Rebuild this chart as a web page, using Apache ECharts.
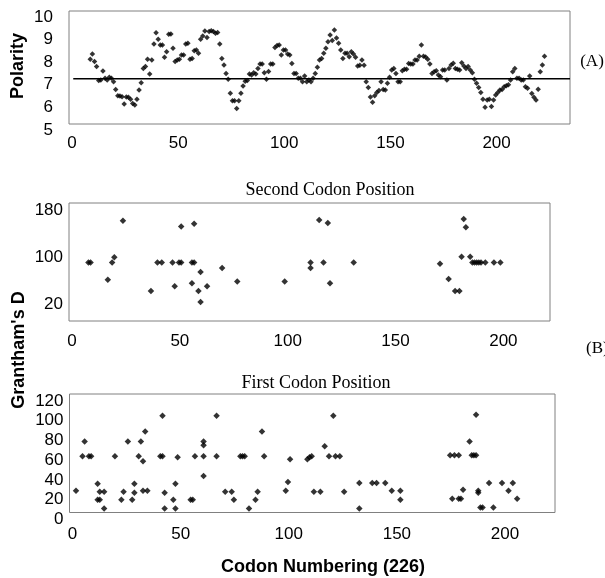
<!DOCTYPE html>
<html><head><meta charset="utf-8">
<script src="https://cdn.jsdelivr.net/npm/echarts@6/dist/echarts.min.js"></script>
<style>html,body{margin:0;padding:0;background:#fff}#c{width:605px;height:578px}</style>
</head><body><div id="c"></div>
<script>
// ---- data ----
const polarityStart = 10;   // codon of first polarity value
const polarity = [
 7.86, 8.10, 7.76, 7.54, 6.92, 6.95, 7.35, 7.02, 6.95, 7.07,   // 10-19
 7.02, 6.87, 6.53, 6.25, 6.24, 6.21, 5.88, 6.20, 6.18, 6.09,   // 20-29
 5.91, 5.84, 6.09, 6.50, 6.83, 7.46, 7.54, 7.86, 7.21, 7.83,   // 30-39
 8.54, 9.04, 8.75, 8.50, 8.50, 7.95, 8.20, 8.97, 8.98, 8.35,   // 40-49
 7.76, 7.83, 7.86, 8.05, 8.05, 8.54, 8.57, 7.86, 7.90, 8.24,   // 50-59
 8.27, 8.13, 8.75, 8.89, 9.12, 8.83, 9.09, 9.13, 9.09, 9.01,   // 60-69
 9.05, 8.54, 7.90, 7.61, 7.24, 6.98, 6.36, 6.03, 6.03, 5.69,   // 70-79
 6.03, 6.36, 6.68, 6.89, 6.92, 7.21, 7.17, 7.27, 7.21, 7.46,   // 80-89
 7.65, 7.65, 7.27, 6.98, 7.32, 7.65, 7.65, 8.38, 8.47, 8.50,   // 90-99
 8.05, 8.27, 8.27, 8.10, 8.05, 7.68, 7.24, 7.24, 7.02, 7.02,   // 100-109
 6.87, 7.12, 6.87, 6.95, 6.87, 7.02, 7.24, 7.51, 7.83, 7.90,   // 110-119
 8.13, 8.35, 8.64, 8.94, 8.69, 9.16, 8.80, 8.57, 8.27, 7.90,   // 120-129
 8.13, 8.13, 7.98, 8.20, 8.10, 7.95, 7.57, 7.60, 7.83, 7.60,   // 130-139
 6.87, 6.62, 6.20, 5.96, 6.25, 6.39, 6.48, 6.87, 6.53, 6.50,   // 140-149
 6.80, 7.07, 7.39, 7.46, 7.24, 6.87, 6.87, 7.36, 7.42, 7.42,   // 150-159
 7.68, 7.65, 7.65, 7.83, 7.83, 8.00, 8.50, 8.00, 7.97, 7.86,   // 160-169
 7.65, 7.24, 7.31, 7.36, 7.17, 7.09, 7.39, 7.39, 6.95, 7.46,   // 170-179
 7.61, 7.69, 7.46, 7.42, 7.39, 7.71, 7.57, 7.46, 7.54, 7.39,   // 180-189
 7.27, 6.98, 6.80, 6.62, 6.39, 6.09, 5.74, 6.06, 6.09, 5.77,   // 190-199
 6.06, 6.28, 6.39, 6.50, 6.53, 6.65, 6.69, 6.74, 6.95, 7.31,   // 200-209
 7.46, 7.02, 7.02, 6.95, 6.95, 6.65, 6.58, 7.12, 6.35, 6.18,   // 210-219
 6.06, 6.54, 7.31, 7.61, 8.00                                  // 220-224
];
const meanPolarity = 7.0;
const meanLineX = [2, 236];

const secondCodon = [
 [9,79],[10,79],[18,50],[20,79],[21,88],[25,150],[38,31],[41,79],[43,79],[48,79],
 [49,39],[51,79],[52,79],[52,140],[57,79],[58,79],[57,44],[58,145],[60,31],[61,63],
 [61,12],[64,39],[71,70],[78,47],[100,47],[112,79],[112,70],[116,151],[118,79],[120,146],
 [121,44],[132,79],[172,77],[176,51],[179,31],[181,31],[182,89],[183,153],[184,139],[186,89],
 [187,79],[188,79],[189,79],[190,79],[191,79],[193,79],[197,79],[200,79]
];

const firstCodon = [
 [3,22],[6,57],[7,72],[9,57],[10,57],[13,29],[13,13],[14,13],[14,21],[16,21],
 [16,4],[21,57],[24,13],[25,21],[27,72],[29,13],[30,29],[30,20],[32,57],[33,72],
 [34,52],[35,82],[34,22],[36,22],[42,57],[43,57],[43,98],[44,20],[44,4],[48,13],
 [49,29],[49,4],[50,56],[56,13],[57,13],[58,57],[62,37],[62,57],[62,68],[62,72],
 [68,98],[68,57],[72,21],[75,21],[76,13],[79,57],[80,57],[81,57],[83,4],[86,13],
 [87,21],[89,82],[90,57],[100,22],[101,31],[102,54],[110,54],[111,56],[112,57],[113,21],
 [116,21],[118,67],[120,57],[122,98],[123,57],[125,57],[127,21],[134,30],[134,4],[140,30],
 [142,30],[146,30],[149,22],[153,22],[153,13],[176,58],[178,58],[180,58],[177,14],[180,14],
 [181,14],[182,23],[185,72],[186,58],[187,58],[188,58],[188,99],[189,22],[189,20],[190,5],
 [191,5],[194,30],[196,5],[200,30],[203,22],[205,30],[207,14],[225,58]
];

const xTickLabels = [0, 50, 100, 150, 200];
const polarityTicks = [5, 6, 7, 8, 9, 10];
const secondTicks = [20, 100, 180];
const firstTicks = [0, 20, 40, 60, 80, 100, 120];

// ---- chart ----
const chart = echarts.init(document.getElementById('c'), null, {renderer: 'canvas'});
const sans = '"Liberation Sans", Arial, sans-serif';
const serif = '"Liberation Serif", "Times New Roman", serif';
const border = '#808080';

function grid(left, top, width, height) {
  return {left, top, width, height, show: true, borderColor: border, borderWidth: 1,
          backgroundColor: 'transparent', containLabel: false, outerBoundsMode: 'none'};
}
function xAxis(gi, max, margin) {
  return {type: 'value', gridIndex: gi, min: 0, max: max, interval: 50,
    axisLine: {show: false}, axisTick: {show: false}, splitLine: {show: false},
    axisLabel: {customValues: xTickLabels, color: '#000', fontFamily: sans, fontSize: 17,
      margin: margin, formatter: v => '{a|' + v + '}',
      rich: {a: {fontFamily: sans, fontSize: 17, color: '#000', padding: [0, 0, 0, 6]}}}};
}
function yAxis(gi, min, max, interval, ticks, margin, shift) {
  return {type: 'value', gridIndex: gi, min, max, interval,
    axisLine: {show: false}, axisTick: {show: false}, splitLine: {show: false},
    axisLabel: {customValues: ticks, color: '#000', fontFamily: sans, fontSize: 17,
      margin: margin, formatter: v => '{a|' + v + '}',
      rich: {a: {fontFamily: sans, fontSize: 17, color: '#000', padding: [shift * 2, 0, 0, 0]}}}};
}

const scatterStyle = {color: '#000'};

chart.setOption({
  animation: false,
  backgroundColor: '#fff',
  grid: [grid(69, 11, 501, 113), grid(69, 203, 481, 118), grid(69.5, 394, 485.5, 118.5)],
  xAxis: [xAxis(0, 236, 11), xAxis(1, 223, 12), xAxis(2, 224.5, 13)],
  yAxis: [yAxis(0, 5, 10, 1, polarityTicks, 16, 6),
          yAxis(1, -20, 180, 20, secondTicks, 6, 7),
          yAxis(2, 0, 120, 20, firstTicks, 6, 7)],
  series: [
    {type: 'line', xAxisIndex: 0, yAxisIndex: 0, showSymbol: false, silent: true,
     data: meanLineX.map(x => [x, meanPolarity]), lineStyle: {color: '#000', width: 1.5}},
    {type: 'scatter', xAxisIndex: 0, yAxisIndex: 0, symbol: 'diamond', symbolSize: 5.5,
     itemStyle: scatterStyle, data: polarity.map((v, i) => [polarityStart + i, v])},
    {type: 'scatter', xAxisIndex: 1, yAxisIndex: 1, symbol: 'diamond', symbolSize: 6.5,
     itemStyle: scatterStyle, data: secondCodon},
    {type: 'scatter', xAxisIndex: 2, yAxisIndex: 2, symbol: 'diamond', symbolSize: 6.5,
     itemStyle: scatterStyle, data: firstCodon}
  ],
  graphic: [
    {type: 'text', x: 18, y: 66, rotation: Math.PI / 2,
     style: {text: 'Polarity', fontFamily: sans, fontWeight: 'bold', fontSize: 18, fill: '#000',
             align: 'center', verticalAlign: 'middle'}},
    {type: 'text', x: 19, y: 350, rotation: Math.PI / 2,
     style: {text: "Grantham's D", fontFamily: sans, fontWeight: 'bold', fontSize: 18, fill: '#000',
             align: 'center', verticalAlign: 'middle'}},
    {type: 'text', x: 592, y: 62,
     style: {text: '(A)', fontFamily: serif, fontSize: 17, fill: '#000', align: 'center', verticalAlign: 'middle'}},
    {type: 'text', x: 586, y: 349,
     style: {text: '(B)', fontFamily: serif, fontSize: 17, fill: '#000', align: 'left', verticalAlign: 'middle'}},
    {type: 'text', x: 330, y: 190,
     style: {text: 'Second Codon Position', fontFamily: serif, fontSize: 18, fill: '#000', align: 'center', verticalAlign: 'middle'}},
    {type: 'text', x: 316, y: 383,
     style: {text: 'First Codon Position', fontFamily: serif, fontSize: 18, fill: '#000', align: 'center', verticalAlign: 'middle'}},
    {type: 'text', x: 323, y: 567,
     style: {text: 'Codon Numbering (226)', fontFamily: sans, fontWeight: 'bold', fontSize: 18, fill: '#000', align: 'center', verticalAlign: 'middle'}}
  ]
});
</script></body></html>
